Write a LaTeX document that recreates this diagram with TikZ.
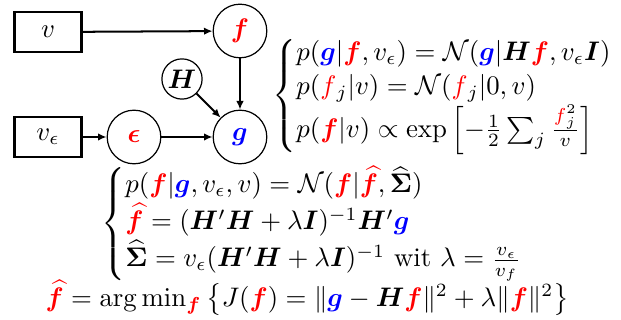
\documentclass[tikz,border=0pt]{standalone}
\usepackage{amsmath,amssymb,bm}
\usepackage{xcolor}
\usetikzlibrary{arrows.meta,positioning}
\newcommand{\fv}{\textcolor{red}{\bm{f}}}
\newcommand{\gv}{\textcolor{blue}{\bm{g}}}
\newcommand{\fhat}{\textcolor{red}{\widehat{\bm{f}}}}
\newcommand{\Hm}{\bm{H}}
\newcommand{\Iv}{\bm{I}}

\begin{document}
\begin{tikzpicture}[x=0.373pt,y=-0.373pt,
  rv/.style={draw,circle,line width=0.45pt,minimum size=20pt,inner sep=0pt},
  hyper/.style={draw,rectangle,line width=0.8pt,minimum width=25pt,minimum height=15pt},
  link/.style={-{Latex[length=3.2pt,width=2.8pt]},line width=0.75pt},
  eqn/.style={anchor=west,inner sep=0pt}]
  \useasboundingbox (0,0) rectangle (621,320);
  \node[hyper] (v) at (48,32) {$v$};
  \node[hyper] (ve) at (48,137) {$v_\epsilon$};
  \node[rv] (f) at (240,31) {$\fv$};
  \node[rv,minimum size=15pt] (H) at (182,79) {$\Hm$};
  \node[rv] (eps) at (134,137) {$\textcolor{red}{\bm{\epsilon}}$};
  \node[rv] (g) at (240,137) {$\gv$};
  \draw[link] (v) -- (f);
  \draw[link] (f) -- (g);
  \draw[link] (H) -- (g);
  \draw[link] (ve) -- (eps);
  \draw[link] (eps) -- (g);
  % modele direct
  \node[eqn] (direct) at (272,96) {\renewcommand{\arraystretch}{1.05}$\left\{\begin{array}{@{}l@{}}
    p(\gv|\fv,v_\epsilon)=\mathcal{N}(\gv|\Hm\fv,v_\epsilon\Iv)\\
    p(\textcolor{red}{f}_j|v)=\mathcal{N}(\textcolor{red}{f}_j|0,v)\\
    p(\fv|v)\propto\exp\left[-\frac{1}{2}\sum_j\frac{\textcolor{red}{f}_j^2}{v}\right]
  \end{array}\right.$};
  % a posteriori
  \node[eqn] (post) at (101,224) {\renewcommand{\arraystretch}{1.1}$\left\{\begin{array}{@{}l@{}}
    p(\fv|\gv,v_\epsilon,v)=\mathcal{N}(\fv|\fhat,\widehat{\bm{\Sigma}})\\
    \fhat=(\Hm'\Hm+\lambda\Iv)^{-1}\Hm'\gv\\
    \widehat{\bm{\Sigma}}=v_\epsilon(\Hm'\Hm+\lambda\Iv)^{-1}\text{ wit }\lambda=\frac{v_\epsilon}{v_f}
  \end{array}\right.$};
  \node[eqn] (crit) at (45,298) {$\fhat=\arg\min_{\fv}\left\{J(\fv)=\|\gv-\Hm\fv\|^2+\lambda\|\fv\|^2\right\}$};
\end{tikzpicture}
\end{document}
